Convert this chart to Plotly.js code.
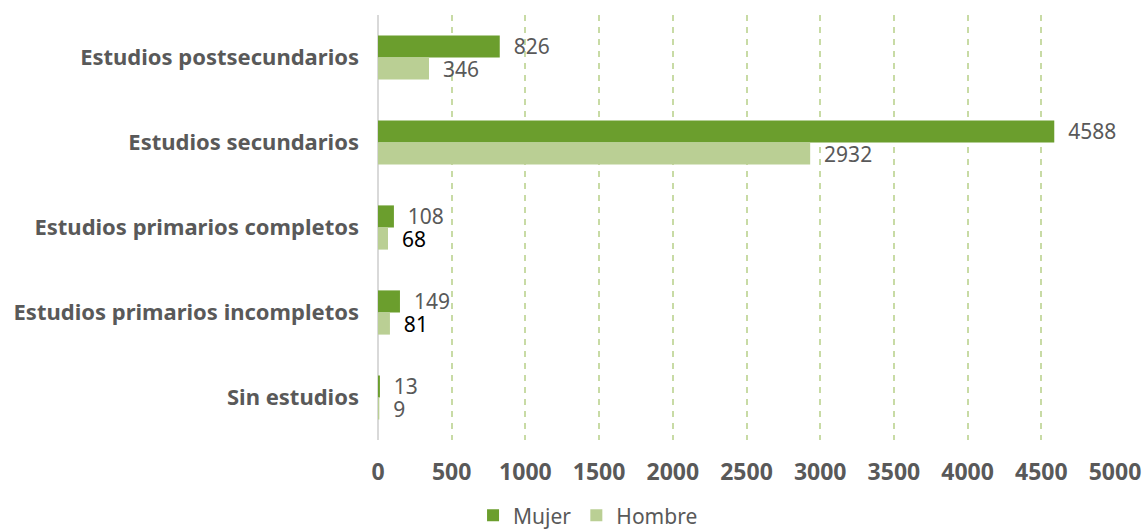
<!DOCTYPE html>
<html><head><meta charset="utf-8">
<script src="https://cdn.plot.ly/plotly-3.0.1.min.js"></script>
<style>body{margin:0}#c{width:1148px;height:532px}</style>
</head><body><div id="c"></div>
<script>
const categories = ['Estudios postsecundarios','Estudios secundarios','Estudios primarios completos','Estudios primarios incompletos','Sin estudios'];
const mujer = [826, 4588, 108, 149, 13];
const hombre = [346, 2932, 68, 81, 9];
const xTicks = [0,500,1000,1500,2000,2500,3000,3500,4000,4500,5000];
const gray = '#595959';
const font = 'Noto Sans, sans-serif';

const traces = [
  {type:'bar', orientation:'h', name:'Mujer', y:categories, x:mujer,
   marker:{color:'#6b9e2d'}, text:mujer, texttemplate:'\u00a0\u00a0%{x}', textposition:'outside',
   constraintext:'none',
   textfont:{family:font,size:21,color:gray}, cliponaxis:false, hoverinfo:'none'},
  {type:'bar', orientation:'h', name:'Hombre', y:categories, x:hombre,
   marker:{color:'#bacf94'}, text:hombre, texttemplate:'\u00a0\u00a0%{x}', textposition:'outside',
   constraintext:'none',
   textfont:{family:font,size:21,color:[gray,gray,'#000','#000',gray]}, cliponaxis:false, hoverinfo:'none'}
];
const layout = {
  width:1148, height:532,
  margin:{l:378, r:33, t:15, b:92, autoexpand:false},
  paper_bgcolor:'#fff', plot_bgcolor:'#fff',
  barmode:'group', bargap:0.48, bargroupgap:0,
  showlegend:true,
  legend:{orientation:'h', x:0.285, xanchor:'center', y:-0.178, yanchor:'middle',
          font:{family:font,size:21,color:gray}, traceorder:'normal', itemwidth:20},
  xaxis:{range:[0,5000], tickvals:xTicks, ticktext:xTicks.map(String), showgrid:true,
         gridcolor:'#c8dba5', griddash:'6px,6px', gridwidth:2,
         zeroline:true, zerolinecolor:'#d9d9d9', zerolinewidth:2, showline:false,
         tickfont:{family:font,size:23,color:gray,weight:'bold'}, ticklabelstandoff:16, fixedrange:true},
  yaxis:{type:'category', autorange:'reversed', showgrid:false, zeroline:false, showline:false,
         tickfont:{family:font,size:22,color:gray,weight:'bold'}, ticklabelstandoff:18, ticks:'', fixedrange:true}
};
Plotly.newPlot('c', traces, layout, {staticPlot:true});
</script></body></html>
